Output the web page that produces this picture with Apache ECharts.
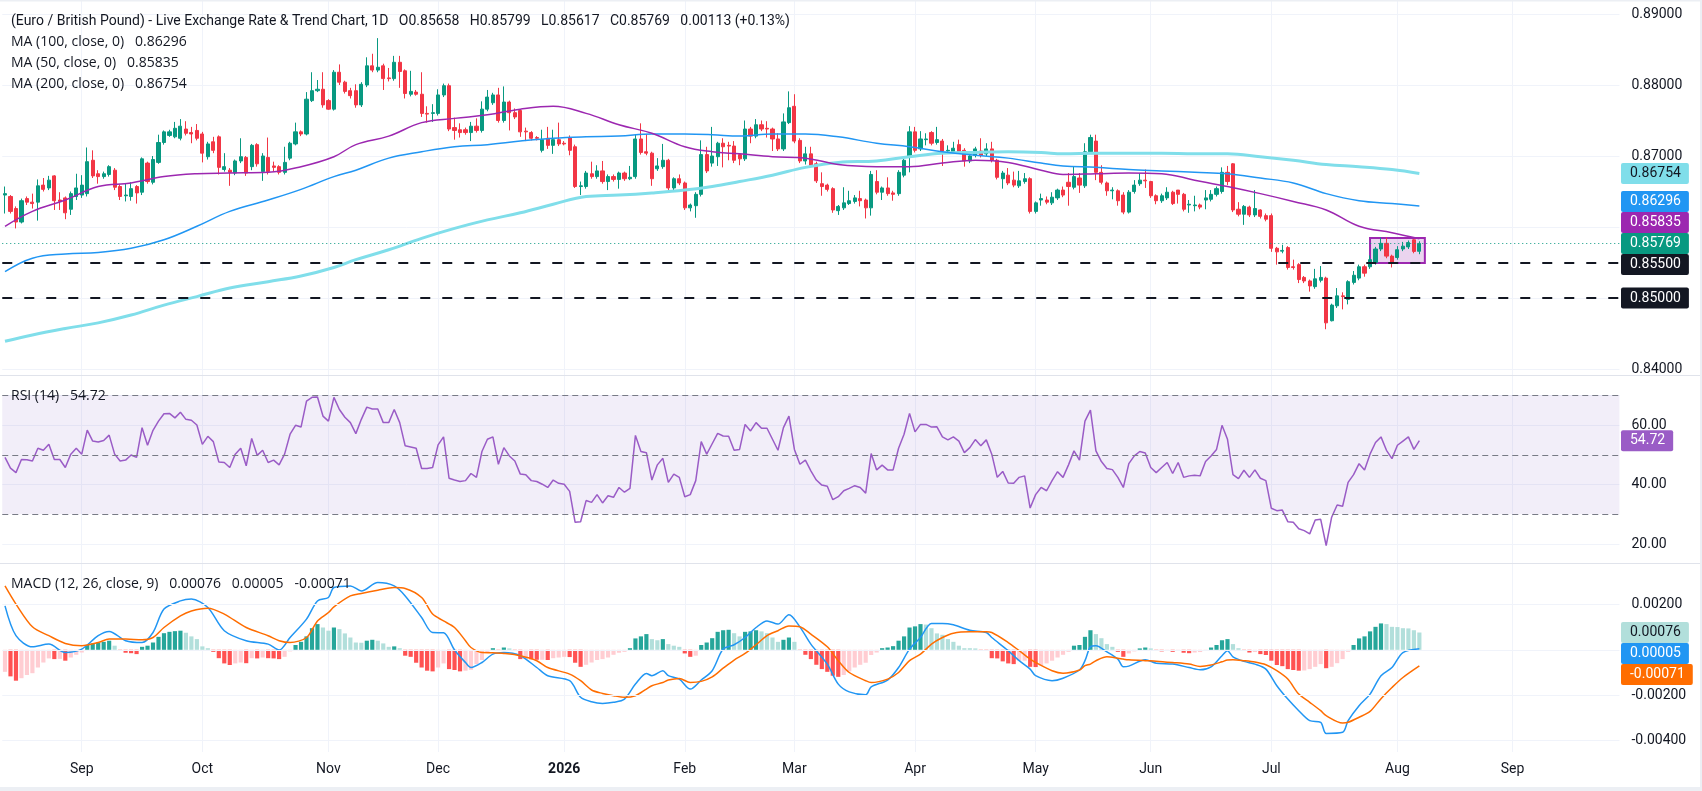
<!DOCTYPE html>
<html>
<head>
<meta charset="utf-8">
<title>EUR/GBP - Live Exchange Rate & Trend Chart</title>
<script src="https://cdn.jsdelivr.net/npm/echarts@6/dist/echarts.min.js"></script>
<style>
html,body{margin:0;padding:0;background:#fff;}
#chart{width:1702px;height:791px;}
</style>
</head>
<body>
<div id="chart"></div>
<script>
// daily candles, one row per trading day from 2025-08-12: [open, high, low, close]
var ohlc = [
[.8645,.8657,.8619,.8647],[.8643,.8645,.8619,.8622],[.8626,.8629,.8598,.8607],[.8607,.8640,.8605,.8637],[.8640,.8643,.8631,.8635],
[.8635,.8647,.8626,.8633],[.8635,.8667,.8609,.8658],[.8659,.8669,.8650,.8653],[.8655,.8672,.8652,.8666],[.8672,.8673,.8624,.8637],
[.8638,.8649,.8624,.8636],[.8641,.8643,.8611,.8620],[.8625,.8650,.8617,.8647],[.8643,.8675,.8638,.8655],[.8645,.8673,.8641,.8659],
[.8647,.8712,.8643,.8692],[.8694,.8708,.8669,.8672],[.8675,.8680,.8661,.8671],[.8671,.8678,.8668,.8675],[.8674,.8687,.8671,.8685],
[.8680,.8683,.8652,.8656],[.8657,.8660,.8638,.8643],[.8644,.8661,.8636,.8645],[.8643,.8663,.8637,.8654],[.8657,.8659,.8633,.8648],
[.8649,.8698,.8645,.8696],[.8690,.8692,.8661,.8664],[.8663,.8700,.8660,.8695],[.8691,.8730,.8689,.8719],[.8719,.8736,.8716,.8734],
[.8729,.8737,.8727,.8734],[.8727,.8748,.8725,.8739],[.8725,.8752,.8722,.8742],[.8738,.8749,.8729,.8732],[.8733,.8741,.8718,.8731],
[.8736,.8745,.8722,.8725],[.8731,.8734,.8691,.8704],[.8699,.8720,.8695,.8717],[.8720,.8727,.8704,.8708],[.8727,.8729,.8674,.8684],
[.8681,.8704,.8678,.8685],[.8680,.8683,.8658,.8677],[.8676,.8695,.8673,.8693],[.8693,.8725,.8690,.8699],[.8698,.8700,.8672,.8676],
[.8685,.8717,.8680,.8715],[.8716,.8718,.8685,.8689],[.8678,.8704,.8665,.8700],[.8698,.8726,.8674,.8678],[.8686,.8692,.8678,.8684],
[.8685,.8687,.8674,.8677],[.8677,.8713,.8674,.8691],[.8697,.8720,.8694,.8718],[.8717,.8747,.8715,.8734],[.8734,.8736,.8728,.8731],
[.8731,.8790,.8729,.8780],[.8778,.8818,.8776,.8792],[.8792,.8807,.8790,.8794],[.8794,.8818,.8768,.8772],[.8778,.8780,.8765,.8766],
[.8766,.8821,.8764,.8818],[.8818,.8829,.8800,.8804],[.8804,.8806,.8788,.8791],[.8792,.8796,.8781,.8785],[.8792,.8801,.8768,.8772],
[.8772,.8804,.8769,.8801],[.8800,.8839,.8797,.8827],[.8827,.8844,.8818,.8821],[.8821,.8866,.8818,.8825],[.8827,.8830,.8793,.8809],
[.8810,.8824,.8805,.8809],[.8809,.8841,.8806,.8832],[.8832,.8841,.8796,.8819],[.8820,.8822,.8781,.8788],[.8787,.8820,.8784,.8791],
[.8790,.8793,.8785,.8787],[.8787,.8818,.8755,.8760],[.8760,.8770,.8747,.8759],[.8760,.8773,.8748,.8761],[.8760,.8794,.8757,.8786],
[.8786,.8802,.8783,.8799],[.8799,.8802,.8735,.8738],[.8740,.8754,.8723,.8736],[.8737,.8746,.8726,.8733],[.8737,.8740,.8730,.8733],
[.8733,.8748,.8721,.8742],[.8742,.8753,.8733,.8736],[.8736,.8777,.8733,.8766],[.8766,.8793,.8763,.8783],[.8775,.8789,.8772,.8786],
[.8786,.8796,.8747,.8750],[.8750,.8798,.8747,.8776],[.8776,.8778,.8736,.8761],[.8761,.8767,.8752,.8755],[.8764,.8766,.8727,.8734],
[.8735,.8740,.8721,.8734],[.8733,.8735,.8722,.8725],[.8726,.8728,.8722,.8725],[.8708,.8737,.8705,.8723],[.8725,.8741,.8710,.8715],
[.8715,.8737,.8703,.8723],[.8723,.8747,.8714,.8717],[.8718,.8721,.8715,.8717],[.8726,.8729,.8701,.8708],[.8713,.8716,.8655,.8657],
[.8657,.8664,.8645,.8658],[.8657,.8679,.8654,.8676],[.8675,.8692,.8668,.8671],[.8671,.8687,.8668,.8679],[.8679,.8693,.8661,.8664],
[.8664,.8674,.8652,.8671],[.8671,.8674,.8664,.8667],[.8667,.8678,.8654,.8676],[.8676,.8678,.8665,.8668],[.8668,.8686,.8666,.8670],
[.8671,.8731,.8668,.8724],[.8724,.8746,.8702,.8705],[.8706,.8731,.8701,.8704],[.8704,.8706,.8658,.8668],[.8682,.8697,.8679,.8686],
[.8685,.8717,.8682,.8694],[.8694,.8696,.8649,.8655],[.8655,.8670,.8652,.8668],[.8668,.8674,.8659,.8662],[.8662,.8664,.8624,.8627],
[.8627,.8633,.8622,.8631],[.8630,.8649,.8613,.8646],[.8646,.8722,.8643,.8702],[.8702,.8713,.8676,.8679],[.8690,.8741,.8685,.8700],
[.8699,.8720,.8686,.8718],[.8718,.8725,.8684,.8713],[.8715,.8720,.8694,.8714],[.8714,.8721,.8690,.8694],[.8702,.8704,.8687,.8696],
[.8696,.8750,.8693,.8738],[.8738,.8741,.8718,.8728],[.8728,.8752,.8725,.8744],[.8744,.8750,.8735,.8738],[.8739,.8749,.8726,.8738],
[.8738,.8740,.8707,.8724],[.8724,.8732,.8707,.8710],[.8710,.8760,.8707,.8748],[.8747,.8791,.8745,.8768],[.8770,.8787,.8718,.8721],
[.8722,.8725,.8690,.8693],[.8693,.8713,.8688,.8703],[.8703,.8713,.8684,.8687],[.8689,.8692,.8662,.8665],[.8661,.8677,.8644,.8657],
[.8659,.8661,.8650,.8653],[.8654,.8656,.8620,.8624],[.8623,.8631,.8617,.8629],[.8627,.8656,.8624,.8634],[.8633,.8651,.8631,.8637],
[.8636,.8645,.8633,.8641],[.8640,.8651,.8629,.8637],[.8638,.8640,.8612,.8627],[.8627,.8679,.8616,.8674],[.8664,.8680,.8646,.8649],
[.8649,.8657,.8638,.8655],[.8655,.8670,.8644,.8647],[.8648,.8651,.8637,.8646],[.8647,.8680,.8644,.8677],[.8673,.8700,.8670,.8694],
[.8699,.8742,.8677,.8734],[.8734,.8741,.8705,.8708],[.8710,.8735,.8707,.8724],[.8723,.8732,.8715,.8724],[.8733,.8735,.8715,.8718],
[.8719,.8741,.8716,.8723],[.8721,.8724,.8686,.8707],[.8707,.8715,.8705,.8708],[.8706,.8720,.8703,.8711],[.8716,.8723,.8703,.8706],
[.8708,.8711,.8685,.8693],[.8693,.8701,.8690,.8700],[.8701,.8713,.8698,.8710],[.8707,.8725,.8698,.8701],[.8703,.8718,.8700,.8710],
[.8710,.8720,.8691,.8694],[.8694,.8696,.8667,.8670],[.8668,.8679,.8654,.8676],[.8673,.8683,.8659,.8662],[.8666,.8678,.8656,.8659],
[.8658,.8679,.8655,.8665],[.8664,.8676,.8661,.8668],[.8668,.8670,.8619,.8622],[.8622,.8636,.8619,.8634],[.8638,.8647,.8630,.8640],
[.8638,.8643,.8632,.8635],[.8634,.8649,.8631,.8642],[.8641,.8654,.8638,.8652],[.8652,.8657,.8642,.8645],[.8663,.8676,.8630,.8657],
[.8656,.8685,.8653,.8671],[.8669,.8676,.8648,.8659],[.8658,.8718,.8655,.8706],[.8706,.8730,.8703,.8726],[.8721,.8730,.8666,.8677],
[.8677,.8687,.8660,.8663],[.8662,.8664,.8644,.8651],[.8651,.8656,.8639,.8652],[.8651,.8653,.8630,.8637],[.8645,.8649,.8618,.8621],
[.8621,.8652,.8619,.8649],[.8650,.8666,.8647,.8659],[.8661,.8676,.8658,.8666],[.8666,.8681,.8655,.8665],[.8664,.8665,.8641,.8644],
[.8644,.8646,.8632,.8637],[.8637,.8647,.8634,.8644],[.8641,.8656,.8638,.8649],[.8649,.8651,.8631,.8633],[.8652,.8652,.8633,.8646],
[.8646,.8648,.8622,.8625],[.8631,.8638,.8620,.8632],[.8630,.8644,.8622,.8631],[.8631,.8633,.8625,.8628],[.8638,.8652,.8625,.8641],
[.8639,.8652,.8636,.8646],[.8646,.8657,.8643,.8654],[.8650,.8684,.8647,.8677],[.8677,.8686,.8659,.8664],[.8689,.8690,.8621,.8624],
[.8625,.8635,.8615,.8618],[.8618,.8631,.8603,.8629],[.8628,.8630,.8614,.8617],[.8617,.8652,.8614,.8626],[.8624,.8625,.8612,.8615],
[.8616,.8619,.8608,.8611],[.8616,.8619,.8565,.8570],[.8570,.8572,.8547,.8565],[.8566,.8575,.8563,.8567],[.8571,.8573,.8540,.8543],
[.8544,.8554,.8540,.8543],[.8547,.8549,.8521,.8526],[.8529,.8531,.8521,.8524],[.8524,.8526,.8509,.8517],[.8516,.8541,.8513,.8527],
[.8525,.8545,.8522,.8529],[.8528,.8530,.8456,.8465],[.8468,.8492,.8467,.8490],[.8489,.8514,.8486,.8503],[.8503,.8508,.8484,.8502],
[.8498,.8525,.8491,.8523],[.8522,.8538,.8519,.8532],[.8528,.8547,.8525,.8544],[.8544,.8547,.8530,.8535],[.8544,.8560,.8541,.8554],
[.8550,.8572,.8547,.8569],[.8569,.8585,.8566,.8577],[.8577,.8585,.8556,.8559],[.8559,.8561,.8543,.8550],[.8557,.8573,.8554,.8568],
[.8569,.8579,.8566,.8573],[.8572,.8581,.8569,.8578],[.8582,.8583,.8563,.85656],[.85658,.85799,.85617,.85769]
];

// moving averages, read at these candle numbers (1 = first candle)
var maIdx  = [1,6,12,18,24,30,36,42,49,55,61,65,71,77,83,89,95,101,107,113,119,125,130,135,141,147,153,160,166,172,178,184,190,194,200,206,212,218,224,230,236,242,248,254,259];
var ma50   = [.8601,.8622,.8638,.8657,.8662,.8671,.8675,.8676,.8677,.8685,.8699,.8716,.8728,.8747,.8753,.8758,.8766,.8770,.8760,.8744,.8732,.8713,.8706,.8703,.8699,.8697,.8688,.8685,.8685,.8690,.8694,.8691,.8680,.8674,.8675,.8676,.8675,.8666,.8657,.8647,.8636,.8624,.8601,.8592,.85835];
var ma100  = [.8537,.8556,.8562,.8564,.8570,.8582,.8601,.8622,.8638,.8653,.8671,.8680,.8697,.8706,.8713,.8716,.8721,.8725,.8727,.8728,.8731,.8731,.8730,.8728,.8731,.8731,.8727,.8718,.8713,.8706,.8701,.8697,.8690,.8686,.8684,.8681,.8679,.8677,.8675,.8669,.8662,.8647,.8637,.8633,.86296];
var ma200  = [.8439,.8448,.8457,.8465,.8476,.8490,.8502,.8514,.8523,.8531,.8543,.8554,.8568,.8584,.8598,.8610,.8620,.8632,.8643,.8645,.8648,.8652,.8657,.8664,.8673,.8684,.8691,.8693,.8699,.8704,.8705,.8706,.8705,.8703,.8704,.8704,.8704,.8703,.8703,.8699,.8694,.8688,.8685,.8681,.86754];

// RSI (14), one value per candle
var rsi = [
49.1,45.5,44.0,48.4,48.3,47.9,52.2,51.5,53.5,48.4,48.4,45.7,50.2,52.2,50.2,58.3,54.6,54.3,54.8,56.6,
50.2,47.9,48.2,49.9,49.1,59.1,53.2,58.2,61.3,63.8,63.9,62.4,64.3,61.9,61.6,60.0,53.5,56.2,54.4,47.6,
47.4,45.7,50.2,52.2,46.3,55.5,49.8,51.5,47.4,48.2,46.6,50.2,56.9,59.9,59.3,68.0,69.3,69.4,63.0,61.3,
69.3,65.2,62.6,60.8,57.1,61.9,66.0,65.4,65.4,60.8,60.8,65.2,60.8,53.0,52.6,52.2,45.4,45.4,45.7,53.3,
56.0,42.1,41.5,41.0,41.3,43.7,42.4,51.1,55.2,56.0,46.8,52.4,49.6,47.9,43.5,43.3,41.3,41.0,40.1,39.0,
41.5,40.4,40.1,37.7,27.3,27.5,34.6,34.0,36.6,33.8,36.2,35.7,39.0,37.4,38.7,56.5,51.1,50.7,41.5,46.6,
48.8,40.7,43.5,42.4,35.9,36.6,41.3,54.4,50.2,53.7,57.2,56.3,56.2,51.5,51.8,60.2,58.0,60.8,58.9,58.9,
55.2,51.5,59.1,63.0,51.8,46.8,48.2,44.6,41.5,39.8,39.4,34.9,35.9,37.9,38.7,39.6,39.0,37.1,50.4,44.9,
46.5,44.9,44.9,52.2,56.9,63.9,57.7,60.2,60.2,59.3,59.4,56.0,55.0,56.0,54.6,50.7,52.4,55.1,53.0,55.0,
50.2,42.4,44.4,40.5,40.4,42.4,42.9,32.1,36.6,39.0,37.9,41.3,44.3,42.4,46.6,51.3,48.2,61.3,65.0,51.3,
47.7,45.4,45.0,42.4,39.0,47.0,49.6,51.1,50.6,45.7,44.0,45.7,47.4,43.7,47.4,42.4,42.9,43.1,42.9,47.7,
49.6,51.8,59.9,55.2,43.3,42.0,44.8,42.4,44.9,42.1,41.3,32.0,31.2,31.4,27.5,27.3,25.1,24.5,23.4,28.1,
28.3,19.5,29.0,33.1,32.7,40.7,43.3,47.0,44.9,50.2,54.1,56.0,51.5,48.7,53.2,54.6,56.0,51.8,54.72
];

// MACD (12, 26, 9) histogram, one value per candle
var macdHist = [
-.00097,-.00117,-.00136,-.00125,-.00111,-.00103,-.00078,-.00056,-.00038,-.00041,
-.00040,-.00048,-.00034,-.00022,-.00012,.00021,.00028,.00031,.00035,.00040,
.00018,-.00004,-.00013,-.00015,-.00019,.00013,.00018,.00032,.00057,.00073,
.00079,.00082,.00084,.00075,.00059,.00047,.00015,.00007,-.00009,-.00037,
-.00060,-.00067,-.00060,-.00056,-.00059,-.00037,-.00038,-.00034,-.00037,-.00038,
-.00041,-.00031,-.00007,.00021,.00035,.00059,.00095,.00113,.00098,.00084,
.00098,.00091,.00072,.00054,.00032,.00031,.00040,.00044,.00040,.00028,
.00013,.00015,.00007,-.00026,-.00031,-.00057,-.00078,-.00092,-.00095,-.00078,
-.00060,-.00085,-.00089,-.00095,-.00092,-.00088,-.00063,-.00045,-.00012,.00007,
-.00004,.00010,.00006,-.00001,-.00041,-.00041,-.00042,-.00044,-.00044,-.00045,
-.00037,-.00034,-.00031,-.00032,-.00057,-.00075,-.00066,-.00056,-.00045,-.00041,
-.00034,-.00022,-.00013,-.00009,.00007,.00050,.00059,.00069,.00047,.00042,
.00047,.00025,.00018,.00013,-.00016,-.00031,-.00026,.00021,.00032,.00051,
.00079,.00086,.00088,.00073,.00059,.00079,.00081,.00086,.00081,.00073,
.00054,.00035,.00044,.00054,.00035,-.00004,-.00022,-.00041,-.00066,-.00085,
-.00097,-.00114,-.00119,-.00111,-.00095,-.00078,-.00066,-.00057,-.00023,-.00012,
.00007,.00010,.00016,.00040,.00059,.00098,.00103,.00113,.00111,.00095,
.00072,.00066,.00047,.00035,.00018,.00007,.00007,.00006,-.00001,-.00003,
-.00037,-.00038,-.00051,-.00060,-.00063,-.00048,-.00048,-.00075,-.00076,-.00070,
-.00060,-.00048,-.00034,-.00022,-.00009,.00018,.00021,.00057,.00086,.00069,
.00051,.00025,.00013,-.00009,-.00031,-.00016,-.00007,.00006,.00010,.00006,
-.00004,-.00007,-.00004,-.00009,-.00004,-.00013,-.00015,-.00012,-.00010,-.00004,
.00010,.00021,.00042,.00047,.00025,.00007,-.00004,-.00012,-.00010,-.00019,
-.00023,-.00048,-.00067,-.00072,-.00085,-.00089,-.00092,-.00091,-.00085,-.00075,
-.00063,-.00081,-.00075,-.00059,-.00041,-.00009,.00021,.00050,.00059,.00081,
.00101,.00116,.00113,.00101,.00100,.00095,.00094,.00086,.00076
];

// MACD and signal lines, read at these candle numbers
var macdIdx = [1,3,6,9,12,15,18,20,23,26,28,30,33,35,38,41,45,49,51,53,56,58,60,61,64,66,69,72,74,77,79,81,83,85,86,
  88,90,92,95,98,100,104,106,108,110,112,114,116,118,119,121,122,124,126,128,130,132,134,136,138,140,142,144,146,148,151,153,155,158,159,162,164,166,168,170,172,
  174,177,180,181,184,186,188,189,192,194,197,198,199,200,202,204,205,206,209,211,214,217,219,221,223,224,225,227,229,231,233,235,237,239,241,242,245,246,248,250,252,254,256,259];
var macdLine = [.00193,.00062,.00013,.00025,-.00012,.00003,.00062,.00081,.00040,.00032,.00076,.00179,.00215,.00223,.00186,.00084,.00040,.00025,-.00001,.00054,.00135,.00215,.00230,.00274,.00281,.00259,.00296,.00281,.00237,.00142,.00076,.00075,-.00001,-.00056,-.00078,
  -.00056,-.00019,-.00012,-.00026,-.00078,-.00114,-.00136,-.00209,-.00229,-.00236,-.00231,-.00217,-.00151,-.00104,-.00114,-.00092,-.00114,-.00129,-.00173,-.00133,-.00092,.00003,.00022,.00054,.00098,.00127,.00113,.00154,.00101,.00025,-.00063,-.00151,-.00185,-.00198,-.00163,-.00133,-.00078,.00003,.00054,.00116,.00116,
  .00110,.00086,.00076,.00054,-.00004,-.00048,-.00085,-.00114,-.00136,-.00125,-.00089,-.00048,.00013,.00018,-.00009,-.00041,-.00075,-.00072,-.00044,-.00059,-.00063,-.00078,-.00088,-.00075,-.00026,-.00004,-.00031,-.00051,-.00063,-.00085,-.00158,-.00217,-.00268,-.00312,-.00319,-.00368,-.00363,-.00312,-.00246,-.00195,-.00114,-.00078,-.00012,.00005];
var signalLine = [.00281,.00201,.00101,.00062,.00028,.00018,.00032,.00047,.00047,.00044,.00054,.00098,.00149,.00171,.00183,.00157,.00098,.00062,.00040,.00032,.00054,.00127,.00164,.00189,.00237,.00248,.00262,.00274,.00270,.00230,.00157,.00127,.00098,.00040,.00010,
  -.00012,-.00013,-.00016,-.00026,-.00048,-.00078,-.00107,-.00136,-.00177,-.00192,-.00202,-.00209,-.00202,-.00173,-.00158,-.00144,-.00133,-.00126,-.00144,-.00139,-.00119,-.00081,-.00045,-.00016,.00022,.00062,.00084,.00105,.00101,.00069,.00013,-.00048,-.00100,-.00136,-.00144,-.00129,-.00100,-.00048,-.00019,.00025,.00054,
  .00073,.00079,.00079,.00076,.00032,-.00004,-.00041,-.00056,-.00092,-.00103,-.00089,-.00070,-.00063,-.00048,-.00031,-.00037,-.00041,-.00044,-.00048,-.00050,-.00056,-.00063,-.00073,-.00067,-.00053,-.00045,-.00044,-.00048,-.00054,-.00066,-.00092,-.00129,-.00195,-.00231,-.00268,-.00290,-.00322,-.00319,-.00297,-.00271,-.00215,-.00166,-.00122,-.00071];

// horizontal support levels and the consolidation box
var levels = [0.855, 0.850];
var box = { start: '2026-07-27', end: '2026-08-10', high: 0.85845, low: 0.85493 };

// ---- time axis: weekdays from the first candle, plus empty days to the right
var SLOTS = 295;
var dates = [];
(function () {
    var d = new Date(Date.UTC(2025, 7, 12));
    while (dates.length < SLOTS) {
        var wd = d.getUTCDay();
        if (wd !== 0 && wd !== 6) dates.push(d.toISOString().slice(0, 10));
        d.setUTCDate(d.getUTCDate() + 1);
    }
})();
var MONTHS = ['Jan','Feb','Mar','Apr','May','Jun','Jul','Aug','Sep','Oct','Nov','Dec'];
function monthStart(i) { return i > 0 && dates[i].slice(0, 7) !== dates[i - 1].slice(0, 7); }

var UP = '#089981', DOWN = '#f23645';
var C_MA50 = '#9c27b0', C_MA100 = '#2196f3', C_MA200 = '#80deea';
var C_RSI = '#9a5cc6', C_MACD = '#2196f3', C_SIG = '#ff6d00';
var GRIDC = '#f0f3fa', TXT = '#131722';
var FONT = 'Roboto, "Noto Sans", sans-serif';
var LEG_FONT = '"Open Sans", Roboto, sans-serif';

function histColor(k) {
    var v = macdHist[k], p = k > 0 ? macdHist[k - 1] : v;
    if (v >= 0) return v > p ? '#26a69a' : '#b2dfdb';
    return v < p ? '#ff5252' : '#ffcdd2';
}
function pick(idx, vals) { return idx.map(function (n, k) { return [dates[n - 1], vals[k]]; }); }

var last = ohlc[ohlc.length - 1], prev = ohlc[ohlc.length - 2];
var chg = last[3] - prev[3];

var L = 2.26, R = 82.54;
var hiddenX = { type: 'category', data: dates, axisLine: { show: false }, axisTick: { show: false }, axisLabel: { show: false }, splitLine: { show: false } };
function xAx(g) { return Object.assign({ gridIndex: g }, hiddenX); }
var yLabel = { color: TXT, fontSize: 14, fontFamily: FONT, margin: 12 };

var option = {
    animation: false,
    backgroundColor: '#ffffff',
    grid: [
        { left: L, right: R, top: 14, height: 355 },
        { left: L, right: R, top: 395.25, height: 148.75 },
        { left: L, right: R, top: 581.6, height: 159.1 },
        { left: 5, right: 85.3, top: 0, height: 752 }
    ],
    xAxis: [
        xAx(0), xAx(1), xAx(2),
        {
            gridIndex: 3, type: 'category', data: dates, boundaryGap: false,
            axisLine: { show: false }, axisTick: { show: false },
            axisLabel: {
                interval: function (i) { return monthStart(i); },
                formatter: function (v) {
                    var m = +v.slice(5, 7);
                    return m === 1 ? '{y|' + v.slice(0, 4) + '}' : MONTHS[m - 1];
                },
                color: TXT, fontSize: 14, fontFamily: FONT, margin: 10,
                rich: { y: { fontWeight: 'bold', fontSize: 14, fontFamily: FONT, color: TXT } }
            },
            splitLine: { show: true, interval: function (i) { return monthStart(i); }, lineStyle: { color: GRIDC, width: 1 } }
        }
    ],
    yAxis: [
        {
            gridIndex: 0, position: 'right', min: 0.84, max: 0.89, interval: 0.01,
            axisLine: { show: false }, axisTick: { show: false },
            axisLabel: Object.assign({ formatter: function (v) { return v.toFixed(5); } }, yLabel),
            splitLine: { lineStyle: { color: GRIDC } }
        },
        {
            gridIndex: 1, position: 'right', min: 20, max: 70, interval: 20,
            axisLine: { show: false }, axisTick: { show: false },
            axisLabel: Object.assign({ formatter: function (v) { return v > 65 ? '' : v.toFixed(2); } }, yLabel),
            splitLine: { lineStyle: { color: GRIDC } }
        },
        {
            gridIndex: 2, position: 'right', min: -0.004, max: 0.003, interval: 0.002,
            axisLine: { show: false }, axisTick: { show: false },
            axisLabel: Object.assign({ formatter: function (v) { return (Math.abs(v) < 1e-9 || v > 0.0025) ? '' : v.toFixed(5); } }, yLabel),
            splitLine: { show: false }
        },
        { gridIndex: 3, show: false, min: 0, max: 1 }
    ],
    series: [
        {
            name: 'EURGBP', type: 'candlestick', xAxisIndex: 0, yAxisIndex: 0,
            data: ohlc.map(function (r) { return [r[0], r[3], r[2], r[1]]; }),
            barWidth: '66%',
            itemStyle: { color: UP, color0: DOWN, borderColor: UP, borderColor0: DOWN, borderWidth: 1 },
            markLine: {
                silent: true, symbol: ['none', 'none'], animation: false, precision: 6,
                label: { show: false },
                data: levels.map(function (v) {
                    return { yAxis: v, lineStyle: { color: TXT, width: 2, type: [10, 12] } };
                }).concat([{ yAxis: last[3], lineStyle: { color: UP, width: 1, type: [1, 3] } }])
            },
            markArea: {
                silent: true,
                itemStyle: { color: 'rgba(156,39,176,0.2)', borderColor: C_MA50, borderWidth: 2 },
                data: [[{ xAxis: box.start, yAxis: box.high }, { xAxis: box.end, yAxis: box.low }]]
            }
        },
        { name: 'MA200', type: 'line', xAxisIndex: 0, yAxisIndex: 0, data: pick(maIdx, ma200), showSymbol: false, smooth: 0.4, lineStyle: { color: C_MA200, width: 3 } },
        { name: 'MA100', type: 'line', xAxisIndex: 0, yAxisIndex: 0, data: pick(maIdx, ma100), showSymbol: false, smooth: 0.4, lineStyle: { color: C_MA100, width: 1.5 } },
        { name: 'MA50', type: 'line', xAxisIndex: 0, yAxisIndex: 0, data: pick(maIdx, ma50), showSymbol: false, smooth: 0.4, lineStyle: { color: C_MA50, width: 1.5 } },
        {
            name: 'RSI', type: 'line', xAxisIndex: 1, yAxisIndex: 1, data: rsi, showSymbol: false, clip: false,
            lineStyle: { color: C_RSI, width: 1.5 },
            markArea: { silent: true, itemStyle: { color: 'rgba(126,87,194,0.1)' }, data: [[{ yAxis: 30 }, { yAxis: 70 }]] },
            markLine: {
                silent: true, symbol: ['none', 'none'], label: { show: false }, precision: 6,
                lineStyle: { color: '#787b86', width: 1, type: [6, 4] },
                data: [{ yAxis: 70 }, { yAxis: 50 }, { yAxis: 30 }]
            }
        },
        {
            name: 'Histogram', type: 'bar', xAxisIndex: 2, yAxisIndex: 2, barWidth: '76%',
            data: macdHist.map(function (v, k) { return { value: v, itemStyle: { color: histColor(k) } }; }),
            markLine: {
                silent: true, symbol: ['none', 'none'], label: { show: false }, precision: 6,
                lineStyle: { color: GRIDC, width: 1, type: 'solid' },
                data: [{ yAxis: 0.002 }, { yAxis: 0 }, { yAxis: -0.002 }, { yAxis: -0.004 }]
            }
        },
        { name: 'MACD', type: 'line', xAxisIndex: 2, yAxisIndex: 2, data: pick(macdIdx, macdLine), showSymbol: false, smooth: 0.3, lineStyle: { color: C_MACD, width: 1.5 } },
        { name: 'Signal', type: 'line', xAxisIndex: 2, yAxisIndex: 2, data: pick(macdIdx, signalLine), showSymbol: false, smooth: 0.3, lineStyle: { color: C_SIG, width: 1.5 } }
    ]
};

var chart = echarts.init(document.getElementById('chart'));
chart.setOption(option);

// ---- price-scale badges, placed by value and pushed apart like the original
function py(axis, v) { return chart.convertToPixel({ yAxisIndex: axis }, v); }
function stack(list, anchor, h) {
    var a = list[anchor];
    var above = list.filter(function (b) { return b !== a && b.y <= a.y; }).sort(function (p, q) { return q.y - p.y; });
    var below = list.filter(function (b) { return b !== a && b.y > a.y; }).sort(function (p, q) { return p.y - q.y; });
    var lim = a.y;
    above.forEach(function (b) { b.y = Math.min(b.y, lim - h); lim = b.y; });
    lim = a.y;
    below.forEach(function (b) { b.y = Math.max(b.y, lim + h); lim = b.y; });
    return list;
}
var lastHist = macdHist[macdHist.length - 1];
var lastMacd = macdLine[macdLine.length - 1], lastSig = signalLine[signalLine.length - 1];
var mainBadges = stack([
    { v: last[3], bg: UP, fg: '#fff' },
    { v: ma50[ma50.length - 1], bg: C_MA50, fg: '#fff' },
    { v: ma100[ma100.length - 1], bg: C_MA100, fg: '#fff' },
    { v: ma200[ma200.length - 1], bg: C_MA200, fg: TXT },
    { v: levels[0], bg: TXT, fg: '#fff' },
    { v: levels[1], bg: TXT, fg: '#fff' }
].map(function (b) { b.y = py(0, b.v); b.t = b.v.toFixed(5); return b; }), 0, 21);
var rsiBadges = [{ v: rsi[rsi.length - 1], bg: C_RSI, fg: '#fff' }].map(function (b) { b.y = py(1, b.v); b.t = b.v.toFixed(2); return b; });
var macdBadges = stack([
    { v: lastHist, bg: histColor(macdHist.length - 1), fg: TXT },
    { v: lastMacd, bg: C_MACD, fg: '#fff' },
    { v: lastSig, bg: C_SIG, fg: '#fff' }
].map(function (b) { b.y = py(2, b.v); b.t = b.v.toFixed(5); return b; }), 0, 21);

var graphics = [];
mainBadges.concat(rsiBadges, macdBadges).forEach(function (b) {
    graphics.push({
        type: 'text', x: 1621, y: b.y, z: 100,
        style: {
            text: b.t, fill: b.fg, backgroundColor: b.bg, padding: [3, 8, 3, 9], borderRadius: 2,
            fontSize: 14, fontFamily: FONT, lineHeight: 15, align: 'left', verticalAlign: 'middle'
        }
    });
});

// ---- legends in the top-left of each pane
function legend(y, text, rich, font) {
    graphics.push({
        type: 'text', x: 11, y: y, z: 100,
        style: { text: text, rich: rich, fontSize: 14, fontFamily: font || LEG_FONT, fill: TXT, verticalAlign: 'middle' }
    });
}
var r = function (c, f) { return { color: c, fontSize: 14, fontFamily: f || LEG_FONT }; };
var GAP = '   ';
legend(21,
    '{d|(Euro / British Pound) - Live Exchange Rate & Trend Chart, 1D}' + GAP + '{d|O}{g|' + last[0].toFixed(5) +
    '}' + GAP + '{d|H}{g|' + last[1].toFixed(5) + '}' + GAP + '{d|L}{g|' + last[2].toFixed(5) + '}' + GAP + '{d|C}{g|' + last[3].toFixed(5) +
    '}' + GAP + '{g|' + chg.toFixed(5) + ' (' + (chg >= 0 ? '+' : '') + (chg / prev[3] * 100).toFixed(2) + '%)}',
    { d: r(TXT, FONT), g: r(UP, FONT) }, FONT);
legend(42, '{d|MA (100, close, 0)}' + GAP + '{v|' + ma100[ma100.length - 1].toFixed(5) + '}', { d: r(TXT), v: r(C_MA100) });
legend(63, '{d|MA (50, close, 0)}' + GAP + '{v|' + ma50[ma50.length - 1].toFixed(5) + '}', { d: r(TXT), v: r(C_MA50) });
legend(84, '{d|MA (200, close, 0)}' + GAP + '{v|' + ma200[ma200.length - 1].toFixed(5) + '}', { d: r(TXT), v: r(C_MA200) });
legend(396, '{d|RSI (14)}' + GAP + '{v|' + rsi[rsi.length - 1].toFixed(2) + '}', { d: r(TXT), v: r(C_RSI) });
legend(584, '{d|MACD (12, 26, close, 9)}' + GAP + '{h|' + lastHist.toFixed(5) + '}' + GAP + '{m|' + lastMacd.toFixed(5) + '}' + GAP + '{s|' + lastSig.toFixed(5) + '}',
    { d: r(TXT), h: r(histColor(macdHist.length - 1)), m: r(C_MACD), s: r(C_SIG) });

// ---- pane separators and outer frame
[375.5, 563.5].forEach(function (y) {
    graphics.push({ type: 'line', z: 50, shape: { x1: 0, y1: y, x2: 1700, y2: y }, style: { stroke: '#e0e3eb', lineWidth: 1 } });
});
graphics.push({ type: 'rect', z: 50, shape: { x: 1700, y: 0, width: 2, height: 791 }, style: { fill: '#eceff4' } });
graphics.push({ type: 'rect', z: 50, shape: { x: 0, y: 787, width: 1702, height: 4 }, style: { fill: '#eceff4' } });
graphics.push({ type: 'rect', z: 50, shape: { x: 0, y: 0, width: 1702, height: 1.5 }, style: { fill: '#eceff4' } });

chart.setOption({ graphic: graphics });
</script>
</body>
</html>
